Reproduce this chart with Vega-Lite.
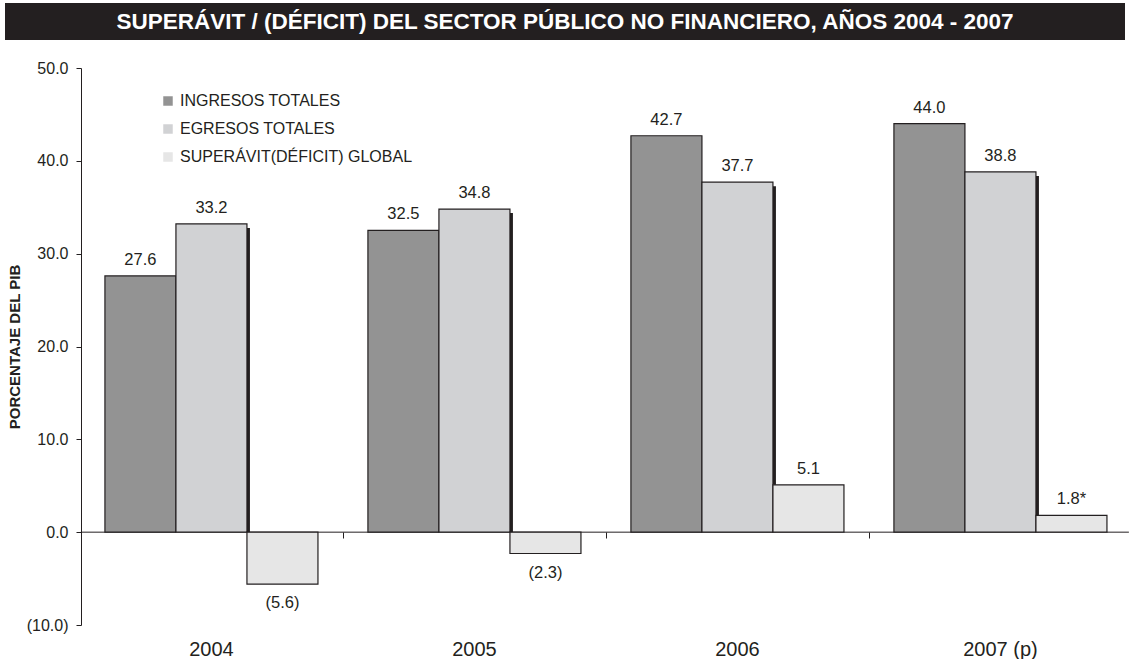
{
  "$schema": "https://vega.github.io/schema/vega-lite/v6.json",
  "padding": {"left": 5, "top": 3, "right": 0, "bottom": 0},
  "background": "white",
  "spacing": 20,
  "config": {"font": "Liberation Sans", "view": {"stroke": null}},
  "vconcat": [
    {
      "width": 1120,
      "height": 37,
      "view": {"fill": "#231f20", "stroke": null},
      "data": {"values": [{"t": "SUPERÁVIT / (DÉFICIT) DEL SECTOR PÚBLICO NO FINANCIERO,  AÑOS 2004 - 2007"}]},
      "mark": {"type": "text", "color": "white", "fontSize": 22.5, "fontWeight": "bold", "align": "center", "baseline": "middle", "font": "Liberation Sans"},
      "encoding": {"text": {"field": "t"}}
    },
    {
      "width": 1123,
      "height": 557,
      "data": {"values": [
        {"anio": "2004", "serie": "INGRESOS TOTALES", "valor": 27.6, "label": "27.6"},
        {"anio": "2004", "serie": "EGRESOS TOTALES", "valor": 33.2, "label": "33.2"},
        {"anio": "2004", "serie": "SUPERÁVIT(DÉFICIT) GLOBAL", "valor": -5.6, "label": "(5.6)"},
        {"anio": "2005", "serie": "INGRESOS TOTALES", "valor": 32.5, "label": "32.5"},
        {"anio": "2005", "serie": "EGRESOS TOTALES", "valor": 34.8, "label": "34.8"},
        {"anio": "2005", "serie": "SUPERÁVIT(DÉFICIT) GLOBAL", "valor": -2.3, "label": "(2.3)"},
        {"anio": "2006", "serie": "INGRESOS TOTALES", "valor": 42.7, "label": "42.7"},
        {"anio": "2006", "serie": "EGRESOS TOTALES", "valor": 37.7, "label": "37.7"},
        {"anio": "2006", "serie": "SUPERÁVIT(DÉFICIT) GLOBAL", "valor": 5.1, "label": "5.1"},
        {"anio": "2007 (p)", "serie": "INGRESOS TOTALES", "valor": 44.0, "label": "44.0"},
        {"anio": "2007 (p)", "serie": "EGRESOS TOTALES", "valor": 38.8, "label": "38.8"},
        {"anio": "2007 (p)", "serie": "SUPERÁVIT(DÉFICIT) GLOBAL", "valor": 1.8, "label": "1.8*"}
      ]},
      "encoding": {
        "y": {"field": "valor", "type": "quantitative",
              "scale": {"domain": [-10, 50], "nice": false, "zero": false},
              "axis": {"values": [-10, 0, 10, 20, 30, 40, 50], "format": "(.1f", "grid": false, "offset": -76,
                       "title": "PORCENTAJE DEL PIB", "titleFontSize": 15, "titleFontWeight": "bold", "titleColor": "#231f20",
                       "titlePadding": 4, "labelFontSize": 16, "labelColor": "#231f20", "labelPadding": 8,
                       "tickSize": 5, "tickColor": "#231f20", "domainColor": "#231f20"}}
      },
      "layer": [
        {
          "data": {"values": [{"z": 0}]},
          "mark": {"type": "rule", "color": "#231f20", "strokeWidth": 1},
          "encoding": {
            "x": {"datum": "2004", "bandPosition": -0.113,
                  "scale": {"domain": ["2004", "2005", "2006", "2007 (p)"], "paddingInner": 0.19, "paddingOuter": 0.23, "align": 0.826},
                  "axis": null},
            "x2": {"datum": "2007 (p)", "bandPosition": 1.103},
            "y": {"field": "z", "type": "quantitative"}
          }
        },
        {
          "transform": [{"filter": "datum.serie === 'EGRESOS TOTALES'"}],
          "mark": {"type": "rule", "color": "#231f20", "strokeWidth": 3, "xOffset": 37, "yOffset": 4},
          "encoding": {
            "x": {"field": "anio", "type": "nominal", "sort": null,
                  "axis": {"orient": "top", "title": null, "offset": -464, "labels": false, "domain": false,
                           "tickSize": -6, "tickOffset": 131.5, "tickColor": "#231f20"}},
            "y2": {"datum": 0}
          }
        },
        {
          "mark": {"type": "bar", "stroke": "#231f20", "strokeWidth": 1.2},
          "encoding": {
            "x": {"field": "anio", "type": "nominal", "sort": null,
                  "axis": {"orient": "bottom", "title": null, "domain": false, "ticks": false, "labelAngle": 0,
                           "labelFontSize": 20, "labelFontWeight": "normal", "labelColor": "#231f20", "labelPadding": 14}},
            "xOffset": {"field": "serie", "type": "nominal", "sort": ["INGRESOS TOTALES", "EGRESOS TOTALES", "SUPERÁVIT(DÉFICIT) GLOBAL"],
                        "scale": {"paddingInner": 0, "paddingOuter": 0}},
            "color": {"field": "serie", "type": "nominal", "sort": ["INGRESOS TOTALES", "EGRESOS TOTALES", "SUPERÁVIT(DÉFICIT) GLOBAL"],
                      "scale": {"range": ["#939393", "#d1d2d4", "#e6e6e6"]},
                      "legend": {"orient": "none", "legendX": 155, "legendY": 90, "title": null, "symbolType": "square",
                                 "symbolSize": 90, "symbolStrokeWidth": 0, "labelFontSize": 16, "labelColor": "#231f20",
                                 "labelLimit": 0, "rowPadding": 12, "labelOffset": 4, "padding": 0}}
          }
        },
        {
          "transform": [{"filter": "datum.valor >= 0"}],
          "mark": {"type": "text", "baseline": "bottom", "dy": -8, "fontSize": 16.5, "color": "#231f20"},
          "encoding": {
            "x": {"field": "anio", "type": "nominal", "sort": null, "axis": null},
            "xOffset": {"field": "serie", "type": "nominal", "sort": ["INGRESOS TOTALES", "EGRESOS TOTALES", "SUPERÁVIT(DÉFICIT) GLOBAL"],
                        "scale": {"paddingInner": 0, "paddingOuter": 0}},
            "text": {"field": "label"}}
        },
        {
          "transform": [{"filter": "datum.valor < 0"}],
          "mark": {"type": "text", "baseline": "top", "dy": 11, "fontSize": 16.5, "color": "#231f20"},
          "encoding": {
            "x": {"field": "anio", "type": "nominal", "sort": null, "axis": null},
            "xOffset": {"field": "serie", "type": "nominal", "sort": ["INGRESOS TOTALES", "EGRESOS TOTALES", "SUPERÁVIT(DÉFICIT) GLOBAL"],
                        "scale": {"paddingInner": 0, "paddingOuter": 0}},
            "text": {"field": "label"}}
        }
      ]
    }
  ]
}
